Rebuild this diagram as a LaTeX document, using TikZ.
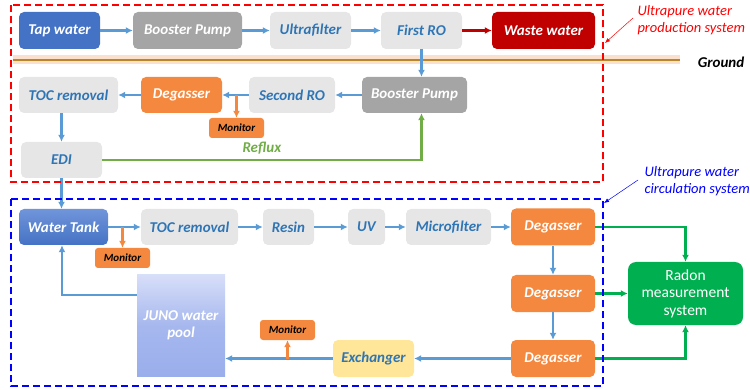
\documentclass[tikz,border=0pt]{standalone}
\usepackage{fontspec}
\setmainfont{Carlito}
\usetikzlibrary{arrows.meta}
\definecolor{flowblue}{HTML}{5B9BD5}
\definecolor{textblue}{HTML}{2E75B6}
\definecolor{lightgray}{HTML}{E7E6E6}
\definecolor{darkgray}{HTML}{A5A5A5}
\definecolor{tapblue}{HTML}{4472C4}
\definecolor{tanktop}{HTML}{7095DA}
\definecolor{pooltop}{HTML}{D7DEF8}
\definecolor{poolbottom}{HTML}{9AAEEC}
\definecolor{wastered}{HTML}{C00000}
\definecolor{degorange}{HTML}{F4883F}
\definecolor{refluxgreen}{HTML}{70AD47}
\definecolor{radongreen}{HTML}{00B050}
\definecolor{exchyellow}{HTML}{FFE699}
\definecolor{groundbrown}{HTML}{B8862B}
\definecolor{groundglow}{HTML}{F8CBAD}
\begin{document}
\begin{tikzpicture}[x=1pt,y=-1pt,
    box/.style={rounded corners=5pt, minimum height=36pt, inner sep=1pt,
      font=\fontsize{15}{17}\selectfont\bfseries\itshape},
    graybox/.style={box, fill=lightgray, text=textblue},
    pumpbox/.style={box, fill=darkgray, text=white},
    degbox/.style={box, fill=degorange, text=white},
    monbox/.style={rounded corners=3pt, fill=degorange, minimum width=55pt,
      minimum height=20pt, inner sep=1pt, font=\fontsize{11}{12}\selectfont\bfseries\itshape},
    flow/.style={draw=flowblue, line width=2.2pt, -{Latex[length=7pt,width=7pt]}},
    monflow/.style={flow, draw=degorange},
    greenflow/.style={flow, draw=radongreen},
    lead/.style={line width=0.5pt, -{Latex[length=5pt,width=4pt]}},
    frame/.style={line width=1.8pt, dash pattern=on 7pt off 4pt}]
  \useasboundingbox (0,0) rectangle (750,390);

  % ground level
  \draw[groundglow, line width=9pt, opacity=0.6] (13,60) -- (680,60);
  \draw[groundbrown, line width=2pt] (13,60) -- (680,60);
  \node[font=\fontsize{15}{17}\selectfont\bfseries\itshape] (ground) at (721,62) {Ground};

  % production system (above and below ground)
  \node[box, fill=tapblue, text=white, minimum width=81pt, minimum height=37pt] (tap) at (59.5,30.5) {Tap water};
  \node[pumpbox, minimum width=109pt, minimum height=37pt] (boostA) at (187.5,30.5) {Booster Pump};
  \node[graybox, minimum width=81pt, minimum height=37pt] (ultra) at (310.5,30.5) {Ultrafilter};
  \node[graybox, minimum width=81pt, minimum height=37pt] (roA) at (421.5,30.5) {First RO};
  \node[box, fill=wastered, text=white, minimum width=103pt, minimum height=37pt] (waste) at (543.5,30.5) {Waste water};

  \node[graybox, minimum width=99pt] (tocA) at (68.5,95) {TOC removal};
  \node[degbox, minimum width=81pt] (degA) at (181.5,95) {Degasser};
  \node[graybox, minimum width=86pt] (roB) at (292,95) {Second RO};
  \node[pumpbox, minimum width=105pt] (boostB) at (414.5,95) {Booster Pump};
  \node[monbox] (monA) at (236.5,128) {Monitor};
  \node[graybox, minimum width=81pt] (edi) at (61.5,160) {EDI};

  \draw[flow] (tap) -- (boostA);
  \draw[flow] (boostA) -- (ultra);
  \draw[flow] (ultra) -- (roA);
  \draw[flow, draw=wastered] (roA) -- (waste);
  \draw[flow] (roA.south) -- (roA.south |- boostB.north);
  \draw[flow] (boostB) -- (roB);
  \draw[flow] (roB) -- (degA);
  \draw[flow] (degA) -- (tocA);
  \draw[monflow] (monA.north |- degA.east) -- (monA.north);
  \draw[flow] (edi.north |- tocA.south) -- (edi.north);
  \draw[flow, draw=refluxgreen] (edi.east) -| (roA.south |- boostB.south)
    node[pos=0.25, above, yshift=1pt, text=refluxgreen, font=\fontsize{15}{17}\selectfont\bfseries\itshape] {Reflux};

  % circulation system
  \node[box, shade, top color=tanktop, bottom color=tapblue, text=white, minimum width=89pt] (tank) at (63.5,227) {Water Tank};
  \node[graybox, minimum width=97pt] (tocB) at (189.5,227) {TOC removal};
  \node[graybox, minimum width=51pt] (resin) at (288.5,227) {Resin};
  \node[graybox, minimum width=37pt] (uv) at (366.5,227) {UV};
  \node[graybox, minimum width=85pt] (micro) at (448.5,227) {Microfilter};
  \node[degbox, minimum width=84pt, minimum height=37pt] (degB) at (553,227) {Degasser};
  \node[degbox, minimum width=84pt, minimum height=37pt] (degC) at (553,293.5) {Degasser};
  \node[degbox, minimum width=84pt, minimum height=37pt] (degD) at (553,358.5) {Degasser};
  \node[box, fill=exchyellow, text=textblue, minimum width=81pt, minimum height=37pt] (exch) at (373.5,358.5) {Exchanger};
  \node[monbox] (monB) at (122.5,258) {Monitor};
  \node[monbox] (monC) at (287.5,330) {Monitor};
  \node[box, rounded corners=0pt, shade, top color=pooltop, bottom color=poolbottom, middle color=poolbottom!80!pooltop,
    text=white, minimum width=88pt, minimum height=101pt, align=center] (pool) at (181,325.5) {JUNO water\\pool};
  \node[rounded corners=8pt, fill=radongreen, text=white, minimum width=115pt, minimum height=63pt,
    align=center, font=\fontsize{15.5}{17.5}\selectfont] (radon) at (685.5,293.5) {Radon\\measurement\\system};

  \draw[flow] (edi.south) -- (edi.south |- tank.north);
  \draw[flow] (tank) -- (tocB);
  \draw[monflow] (monB.north |- tank.east) -- (monB.north);
  \draw[flow] (tocB) -- (resin);
  \draw[flow] (resin) -- (uv);
  \draw[flow] (uv) -- (micro);
  \draw[flow] (micro) -- (degB);
  \draw[flow] (degB) -- (degC);
  \draw[flow] (degC) -- (degD);
  \draw[flow] (degD) -- (exch);
  \draw[flow] (exch.west) -- (exch.west -| pool.east);
  \draw[monflow] (monC.south |- exch.west) -- (monC.south);
  \draw[flow] ([yshift=-20pt]pool.north west) -| ([xshift=-1.5pt]tank.south);
  \draw[greenflow] (degB.east) -| (radon.north);
  \draw[greenflow] (degC.east) -- (radon.west);
  \draw[greenflow] (degD.east) -| (radon.south);

  % system frames
  \draw[frame, red] (11,5) rectangle (603,182);
  \draw[frame, blue] (11,199) rectangle (603,386);
  \node[red, align=left, anchor=west, font=\fontsize{14.5}{17}\selectfont\itshape] (prodlabel) at (634,20) {Ultrapure water\\production system};
  \node[blue, align=left, anchor=west, font=\fontsize{14.5}{17}\selectfont\itshape] (circlabel) at (641,181) {Ultrapure water\\circulation system};
  \draw[lead, red] (633,18) -- (605,43);
  \draw[lead, blue] (638,180) -- (604,203);
\end{tikzpicture}
\end{document}
